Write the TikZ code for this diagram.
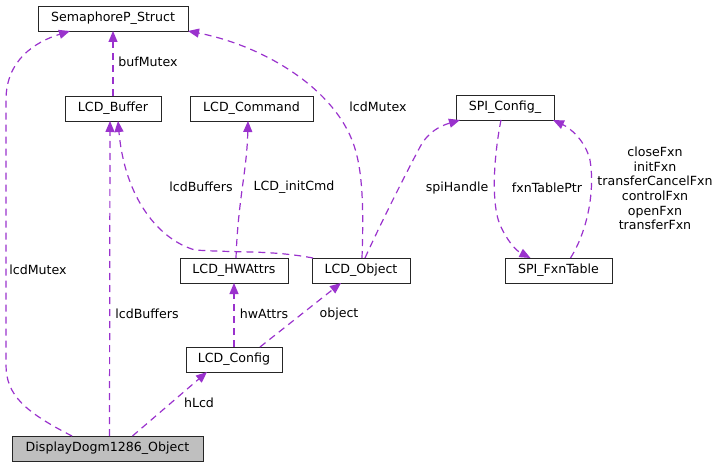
\documentclass[tikz,border=0pt]{standalone}
\usepackage{fontspec}
\setmainfont{DejaVu Sans}
\usetikzlibrary{arrows.meta}
\definecolor{edgecol}{HTML}{9A32CD}
\definecolor{objcol}{HTML}{BFBFBF}
\begin{document}
\begin{tikzpicture}[x=1pt,y=-1pt]
        \useasboundingbox (0,0) rectangle (721,468);
        \begin{scope}[every node/.style={rectangle,draw=black!85,line width=0.8pt,minimum height=25pt,anchor=north west,inner sep=0pt,outer sep=0pt,font=\fontsize{12.6}{14.6}\selectfont}]
            \node[minimum width=150pt] (N1) at (38,6) {SemaphoreP\_Struct};
            \node[minimum width=96pt] (N2) at (65,96) {LCD\_Buffer};
            \node[minimum width=123pt] (N3) at (190,96) {LCD\_Command};
            \node[minimum width=98pt] (N4) at (456,95) {SPI\_Config\_};
            \node[minimum width=108pt] (N5) at (180,258) {LCD\_HWAttrs};
            \node[minimum width=98pt] (N6) at (312,258) {LCD\_Object};
            \node[minimum width=107pt] (N7) at (505,258) {SPI\_FxnTable};
            \node[minimum width=96pt] (N8) at (186,347) {LCD\_Config};
            \node[minimum width=191pt,fill=objcol] (N9) at (12,436) {DisplayDogm1286\_Object};
        \end{scope}
        \begin{scope}[every node/.style={inner sep=0pt,font=\fontsize{12.6}{14.6}\selectfont}]
            \node (L1) at (38,270) {lcdMutex};
            \node (L2) at (147,314) {lcdBuffers};
            \node (L3) at (199,403) {hLcd};
            \node (L4) at (264,314) {hwAttrs};
            \node (L5) at (339,314) {object};
            \node (L6) at (201,187) {lcdBuffers};
            \node (L7) at (294,187) {LCD\_initCmd};
            \node (L8) at (378,107) {lcdMutex};
            \node (L9) at (457,188) {spiHandle};
            \node (L10) at (547,188) {fxnTablePtr};
            \node[align=center] (L11) at (655,188.5) {closeFxn\\initFxn\\transferCancelFxn\\controlFxn\\openFxn\\transferFxn};
            \node (L12) at (148,62) {bufMutex};
        \end{scope}
        \begin{scope}[edgecol,line width=1.2pt,dash pattern=on 7pt off 5pt,-{Triangle[length=11pt,width=9pt]}]
            \draw ([xshift=-35.5pt]N9.north) .. controls (25,412) and (6,395) .. (6,365) -- (6,100) .. controls (6,60) and (35,42) .. ([xshift=-43pt]N1.south);
            \draw ([xshift=2pt]N9.north) -- ([xshift=-3pt]N2.south);
            \draw ([xshift=25pt]N9.north) -- ([xshift=-27pt]N8.south);
            \draw (N8.north) -- (N5.north|-N5.south);
            \draw ([xshift=26pt]N8.north) -- ([xshift=-20pt]N6.south);
            \draw ([xshift=1pt]N6.north west) .. controls (270,250) and (240,253) .. (195,250) .. controls (160,240) and (125,200) .. ([xshift=5pt]N2.south);
            \draw ([xshift=2pt]N5.north) .. controls (238,200) and (247,170) .. ([xshift=-3.5pt]N3.south);
            \draw ([xshift=1pt]N6.north) .. controls (364,200) and (362,165) .. (352,140) .. controls (330,85) and (260,45) .. (N1.south east);
            \draw ([xshift=4pt]N6.north) .. controls (380,225) and (405,175) .. (420,147) .. controls (428,132) and (440,126) .. ([xshift=-45pt]N4.south);
            \draw ([xshift=-4pt]N4.south) .. controls (495,150) and (490,200) .. (500,225) .. controls (507,240) and (515,250) .. ([xshift=-28pt]N7.north);
            \draw ([xshift=12pt]N7.north) .. controls (588,230) and (595,190) .. (590,160) .. controls (585,140) and (570,128) .. ([xshift=-1pt]N4.south east);
            \draw (N2.north) -- (N1.south-|N2.north);
        \end{scope}
\end{tikzpicture}
\end{document}
